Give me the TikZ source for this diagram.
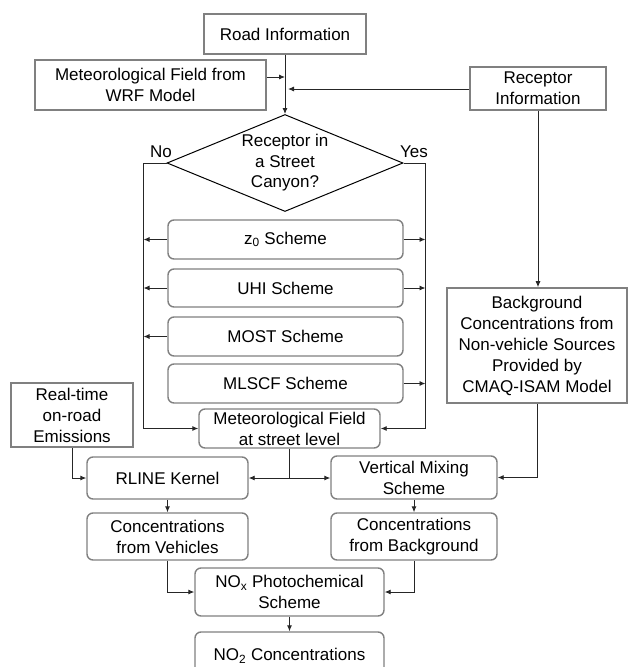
\documentclass[tikz,border=0pt]{standalone}
\usepackage{fontspec}
\setmainfont{Liberation Sans}
\usetikzlibrary{arrows.meta,positioning,shapes.geometric}

\begin{document}
\begin{tikzpicture}[x=1pt, y=-1pt,
  font=\fontsize{17}{21}\selectfont,
  box/.style={draw=gray, line width=1.6pt, align=center, inner sep=0pt},
  rbox/.style={box, rounded corners=6pt, line width=1.4pt},
  line/.style={draw=black!85, line width=0.9pt},
  arr/.style={line, -{Latex[length=6pt,width=5pt]}}]
  \useasboundingbox (0,0) rectangle (630,667);
  % inputs
  \node[box, minimum width=162, minimum height=40] (road) at (285,34) {Road Information};
  \node[box, minimum width=231, minimum height=50] (wrf) at (150.5,85) {Meteorological Field from\\WRF Model};
  \node[box, minimum width=136, minimum height=43] (recep) at (538,88.5) {Receptor\\Information};
  \node[draw=black, line width=1pt, diamond, minimum width=236, minimum height=97, inner sep=0pt,
    label={[align=center, font=\fontsize{17}{20.5}\selectfont]center:{Receptor in\\a Street\\Canyon?}}] (canyon) at (285,163) {};
  \node (nolbl) at (161,152) {No};
  \node (yeslbl) at (414,152) {Yes};
  % schemes
  \node[rbox, minimum width=235, minimum height=39] (zzero) at (285.5,239.5) {z\textsubscript{0} Scheme};
  \node[rbox, minimum width=235, minimum height=38] (uhi) at (285.5,288) {UHI Scheme};
  \node[rbox, minimum width=235, minimum height=39] (most) at (285.5,336.5) {MOST Scheme};
  \node[rbox, minimum width=235, minimum height=39] (mlscf) at (285.5,383.5) {MLSCF Scheme};
  \node[rbox, minimum width=181, minimum height=39] (metst) at (289.5,428.5) {Meteorological Field\\at street level};
  \node[box, minimum width=180, minimum height=115] (bg) at (537,345.5) {Background\\Concentrations from\\Non-vehicle Sources\\Provided by\\CMAQ-ISAM Model};
  \node[box, minimum width=122, minimum height=64] (emis) at (72,415) {Real-time\\on-road\\Emissions};
  % models and outputs
  \node[rbox, minimum width=161, minimum height=42] (rline) at (167.5,478) {RLINE Kernel};
  \node[rbox, minimum width=166, minimum height=43] (vms) at (414,477.5) {Vertical Mixing\\Scheme};
  \node[rbox, minimum width=161, minimum height=47] (cveh) at (167.5,536.5) {Concentrations\\from Vehicles};
  \node[rbox, minimum width=166, minimum height=47] (cbg) at (414,536.5) {Concentrations\\from Background};
  \node[rbox, minimum width=189, minimum height=48] (nox) at (289.5,592) {NO\textsubscript{x} Photochemical\\Scheme};
  \node[rbox, minimum width=189, minimum height=48] (notwo) at (289.5,656) {NO\textsubscript{2} Concentrations};
  % connectors
  \coordinate (wrfin) at (285,77);
  \coordinate (recin) at (288,89);
  \draw[arr] (road.south) -- (canyon.north);
  \draw[arr] (wrf.east |- wrfin) -- (wrfin);
  \draw[arr] (recep.west |- recin) -- (recin);
  \draw[arr] (canyon.west) -- ++(-23,0) coordinate (nobend) |- (metst.west);
  \draw[arr] (canyon.east) -- ++(22,0) coordinate (yesbend) |- (metst.east);
  \draw[arr] (zzero.west) -- (zzero.west -| nobend);
  \draw[arr] (zzero.east) -- (zzero.east -| yesbend);
  \draw[arr] (uhi.west) -- (uhi.west -| nobend);
  \draw[arr] (uhi.east) -- (uhi.east -| yesbend);
  \draw[arr] (most.west) -- (most.west -| nobend);
  \draw[arr] (mlscf.east) -- (mlscf.east -| yesbend);
  \draw[arr] (recep.south) -- (recep.south |- bg.north);
  \draw[arr] (emis.south) |- (rline.west);
  \draw[line] (metst.south) -- (metst.south |- rline.east) coordinate (split);
  \draw[arr] (split) -- (rline.east);
  \draw[arr] (split) -- (split -| vms.west);
  \draw[arr] (bg.south) |- (vms.east);
  \draw[arr] (rline.south) -- (cveh.north);
  \draw[arr] (vms.south) -- (cbg.north);
  \draw[arr] (cveh.south) |- (nox.west);
  \draw[arr] (cbg.south) |- (nox.east);
  \draw[arr] (nox.south) -- (notwo.north);
\end{tikzpicture}
\end{document}
